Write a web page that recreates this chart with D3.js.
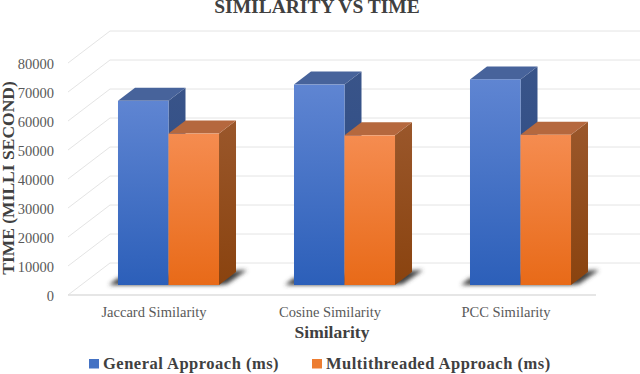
<!DOCTYPE html>
<html>
<head>
<meta charset="utf-8">
<script src="https://d3js.org/d3.v7.min.js"></script>
<style>
  html, body { margin: 0; padding: 0; background: #fff; }
  svg { display: block; }
  text { font-family: "Liberation Serif", serif; }
  .axis text { fill: #595959; font-size: 14.5px; }
  .bold { font-weight: bold; fill: #404040; }
</style>
</head>
<body>
<svg width="640" height="374"></svg>
<script>
const categories = ["Jaccard Similarity", "Cosine Similarity", "PCC Similarity"];
const seriesNames = ["General Approach (ms)", "Multithreaded Approach (ms)"];
const generalValues = [63500, 69100, 70900];
const multiValues = [52200, 51600, 51800];
const yTicks = [0, 10000, 20000, 30000, 40000, 50000, 60000, 70000, 80000];

const colors = [
  { hi: "#5f85d2", lo: "#2c5fb9", top: "#47639b", sideHi: "#395489", sideLo: "#2a4a85" },
  { hi: "#f58c50", lo: "#e86a18", top: "#b5683e", sideHi: "#9a572b", sideLo: "#8a430f" }
];

const svg = d3.select("svg");
const defs = svg.append("defs");

// front plane of the box
const plotLeft = 68, plotRight = 596, plotBase = 295, plotTop = 63;
// wall is pushed back by this much
const wallDx = 42, wallDy = -32;
// the bars stand part way along the floor, and have their own depth
const barDx = 12.5, barDy = -10;
const depthX = 17, depthY = -13;

const y = d3.scaleLinear().domain([0, 80000]).range([plotBase, plotTop]);
const x = d3.scaleBand().domain(categories).range([plotLeft, plotRight])
  .paddingInner(0.426).paddingOuter(0.213);
const x1 = d3.scaleBand().domain(d3.range(seriesNames.length)).range([0, x.bandwidth()]);

colors.forEach((c, i) => {
  const front = defs.append("linearGradient").attr("id", "front" + i)
    .attr("x1", 0).attr("y1", 0).attr("x2", 0).attr("y2", 1);
  front.append("stop").attr("offset", 0).attr("stop-color", c.hi);
  front.append("stop").attr("offset", 1).attr("stop-color", c.lo);
  const side = defs.append("linearGradient").attr("id", "side" + i)
    .attr("x1", 0).attr("y1", 0).attr("x2", 0).attr("y2", 1);
  side.append("stop").attr("offset", 0).attr("stop-color", c.sideHi);
  side.append("stop").attr("offset", 1).attr("stop-color", c.sideLo);
});
defs.append("filter").attr("id", "shadowBlur")
  .attr("x", "-20%").attr("y", "-50%").attr("width", "140%").attr("height", "200%")
  .append("feGaussianBlur").attr("stdDeviation", 2);

const chart = svg.append("g");

// gridlines: floor/side diagonal, then along the back wall
chart.append("g").selectAll("path")
  .data(yTicks)
  .join("path")
  .attr("fill", "none")
  .attr("stroke", "#e4e4e4")
  .attr("stroke-width", 1)
  .attr("d", d => `M${plotLeft},${y(d)}L${plotLeft + wallDx},${y(d) + wallDy}L640,${y(d) + wallDy}`);

// heavier front edge of the floor
chart.append("line")
  .attr("x1", plotLeft).attr("x2", plotRight)
  .attr("y1", y(0)).attr("y2", y(0))
  .attr("stroke", "#dedede").attr("stroke-width", 1.6);

// shadows on the floor, one per group
const groups = chart.append("g").selectAll("g")
  .data(categories)
  .join("g");

groups.append("path")
  .attr("fill", "#404040")
  .attr("filter", "url(#shadowBlur)")
  .attr("d", d => {
    const l = x(d) + barDx, r = l + x.bandwidth(), b = y(0) + barDy;
    return `M${l - 9},${b}L${l},${b - 7}L${r + depthX + 11},${b - 15}L${r + 8},${b - 1}L${r},${b}Z`;
  });

// bars, back to front so each side face is covered by its neighbour
const rows = categories.map((c, i) => [
  { cat: c, s: 0, v: generalValues[i] },
  { cat: c, s: 1, v: multiValues[i] }
]);

groups.each(function(cat, i) {
  const bar = d3.select(this).selectAll("g.bar")
    .data(rows[i])
    .join("g")
    .attr("class", "bar");

  const x0 = d => x(d.cat) + x1(d.s) + barDx;
  const x2 = d => x0(d) + x1.bandwidth();
  const yTop = d => y(d.v) + barDy;
  const yBot = y(0) + barDy;

  bar.append("path")
    .attr("fill", d => `url(#side${d.s})`)
    .attr("d", d => `M${x2(d)},${yTop(d)}L${x2(d) + depthX},${yTop(d) + depthY}L${x2(d) + depthX},${yBot + depthY}L${x2(d)},${yBot}Z`);

  bar.append("path")
    .attr("fill", d => colors[d.s].top)
    .attr("d", d => `M${x0(d)},${yTop(d)}L${x0(d) + depthX},${yTop(d) + depthY}L${x2(d) + depthX},${yTop(d) + depthY}L${x2(d)},${yTop(d)}Z`);

  bar.append("rect")
    .attr("x", x0)
    .attr("y", yTop)
    .attr("width", x1.bandwidth())
    .attr("height", d => yBot - yTop(d))
    .attr("fill", d => `url(#front${d.s})`);
});

// axes
const yAxis = svg.append("g").attr("class", "axis")
  .attr("transform", `translate(${plotLeft - 14},0.5)`)
  .call(d3.axisLeft(y).tickValues(yTicks).tickSize(0).tickPadding(0).tickFormat(d3.format("d")));
yAxis.select(".domain").remove();

const xAxis = svg.append("g").attr("class", "axis")
  .attr("transform", `translate(-2,${plotBase + 9})`)
  .call(d3.axisBottom(x).tickSize(0).tickPadding(3));
xAxis.select(".domain").remove();

// titles
svg.append("text").attr("class", "bold")
  .attr("x", 317).attr("y", 13)
  .attr("text-anchor", "middle")
  .attr("font-size", 19.5)
  .text("SIMILARITY VS TIME");

svg.append("text").attr("class", "bold")
  .attr("transform", "translate(9.5,178) rotate(-90)")
  .attr("text-anchor", "middle")
  .attr("dominant-baseline", "middle")
  .attr("font-size", 17.5)
  .text("TIME (MILLI SECOND)");

svg.append("text").attr("class", "bold")
  .attr("x", 332).attr("y", 338)
  .attr("text-anchor", "middle")
  .attr("font-size", 17.5)
  .text("Similarity");

// legend
const legendX = [89, 312];
const legend = svg.append("g").selectAll("g")
  .data(seriesNames)
  .join("g")
  .attr("transform", (d, i) => `translate(${legendX[i]},359)`);
legend.append("rect")
  .attr("width", 10).attr("height", 9.5)
  .attr("fill", (d, i) => i ? "#ed7d31" : "#4472c4");
legend.append("text").attr("class", "bold")
  .attr("x", 14).attr("y", 10)
  .attr("font-size", 16.5)
  .attr("letter-spacing", 0.5)
  .text(d => d);
</script>
</body>
</html>
